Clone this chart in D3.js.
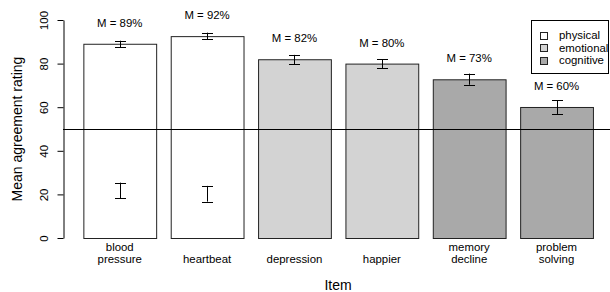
<!DOCTYPE html>
<html>
<head>
<meta charset="utf-8">
<script src="https://cdn.jsdelivr.net/npm/d3@7"></script>
<style>
  body { margin: 0; background: #fff; }
  svg text { font-family: "Liberation Sans", Arial, sans-serif; fill: #000; }
</style>
</head>
<body>
<div id="chart"></div>
<script>
// data
const items = ['blood\npressure', 'heartbeat', 'depression', 'happier', 'memory\ndecline', 'problem\nsolving'];
const groups = ['physical', 'physical', 'emotional', 'emotional', 'cognitive', 'cognitive'];
const means = [89.1, 92.6, 82, 80, 72.8, 60.1];
const errLow = [87.5, 91.1, 79.7, 77.8, 70.3, 56.9];
const errHigh = [90.5, 94.2, 84, 82, 75.4, 63.2];
const meanLabels = ['M = 89%', 'M = 92%', 'M = 82%', 'M = 80%', 'M = 73%', 'M = 60%'];
// second (lower) error bars inside the first two bars
const lowItems = ['blood\npressure', 'heartbeat'];
const lowLow = [18.2, 16.7];
const lowHigh = [25.4, 23.9];
const legendNames = ['physical', 'emotional', 'cognitive'];
const yTicks = [0, 20, 40, 60, 80, 100];
const refLine = 50;

const fills = { physical: '#ffffff', emotional: '#d3d3d3', cognitive: '#a9a9a9' };

const width = 610, height = 292;
const small = '11.4px';

const svg = d3.select('#chart').append('svg')
  .attr('width', width)
  .attr('height', height);

const x = d3.scaleBand()
  .domain(items)
  .range([68.8, 607.5])
  .paddingInner(1 / 6)
  .paddingOuter(1 / 6);

const y = d3.scaleLinear()
  .domain([0, 100])
  .range([238, 20]);

// bars
svg.selectAll('.bar')
  .data(items)
  .enter().append('rect')
  .attr('class', 'bar')
  .attr('x', d => x(d) + 0.5)
  .attr('y', (d, i) => y(means[i]) + 0.5)
  .attr('width', x.bandwidth())
  .attr('height', (d, i) => y(0) - y(means[i]))
  .attr('fill', (d, i) => fills[groups[i]])
  .attr('stroke', '#222')
  .attr('stroke-width', 1);

// reference line
svg.append('line')
  .attr('x1', 63).attr('x2', width)
  .attr('y1', Math.round(y(refLine)) + 0.5).attr('y2', Math.round(y(refLine)) + 0.5)
  .attr('stroke', '#000');

// error bars
function errorBars(cats, lo, hi) {
  const g = svg.append('g').attr('stroke', '#000').attr('stroke-width', 1);
  cats.forEach((c, i) => {
    const cx = Math.round(x(c) + x.bandwidth() / 2) + 0.5;
    g.append('line').attr('x1', cx).attr('x2', cx).attr('y1', y(lo[i])).attr('y2', y(hi[i]));
    [lo[i], hi[i]].forEach(v => {
      g.append('line').attr('x1', cx - 5.5).attr('x2', cx + 5.5)
        .attr('y1', Math.round(y(v)) + 0.5).attr('y2', Math.round(y(v)) + 0.5);
    });
  });
}
errorBars(items, errLow, errHigh);
errorBars(lowItems, lowLow, lowHigh);

// mean labels
svg.selectAll('.mlab')
  .data(items)
  .enter().append('text')
  .attr('class', 'mlab')
  .attr('x', d => x(d) + x.bandwidth() / 2)
  .attr('y', (d, i) => y(means[i] + 9.6) + 4)
  .attr('text-anchor', 'middle')
  .style('font-size', small)
  .text((d, i) => meanLabels[i]);

// y axis
const yAxis = d3.axisLeft(y).tickValues(yTicks).tickSize(6).tickSizeOuter(0);
const ga = svg.append('g')
  .attr('transform', 'translate(63.5,0)')
  .call(yAxis);
ga.select('.domain').attr('stroke', '#000');
ga.selectAll('.tick line').attr('stroke', '#000');
ga.selectAll('.tick text')
  .attr('transform', 'rotate(-90)')
  .attr('x', 0).attr('y', -20)
  .attr('dy', '0.35em')
  .attr('text-anchor', 'middle')
  .style('font-size', small)
  .style('font-family', '"Liberation Sans", Arial, sans-serif');

svg.append('text')
  .attr('transform', 'translate(17,129) rotate(-90)')
  .attr('text-anchor', 'middle')
  .attr('dy', '0.35em')
  .style('font-size', '14px')
  .text('Mean agreement rating');

// category labels
items.forEach(c => {
  const lines = c.split('\n');
  const t = svg.append('text')
    .attr('x', x(c) + x.bandwidth() / 2)
    .attr('text-anchor', 'middle')
    .style('font-size', small);
  lines.forEach((l, j) => {
    const cy = lines.length === 1 ? 259 : 246.7 + j * 12.3;
    t.append('tspan').attr('x', x(c) + x.bandwidth() / 2).attr('y', cy + 4).text(l);
  });
});

svg.append('text')
  .attr('x', 338)
  .attr('y', 285)
  .attr('dy', '0.35em')
  .attr('text-anchor', 'middle')
  .style('font-size', '14px')
  .text('Item');

// legend
const lg = svg.append('g');
lg.append('rect')
  .attr('x', 531.5).attr('y', 20.5)
  .attr('width', 77).attr('height', 53)
  .attr('fill', '#fff').attr('stroke', '#000');
legendNames.forEach((n, i) => {
  const cy = 35.5 + i * 12.3;
  lg.append('rect')
    .attr('x', 540.5).attr('y', Math.round(cy - 3.5) + 0.5)
    .attr('width', 7).attr('height', 7)
    .attr('fill', fills[n]).attr('stroke', '#222');
  lg.append('text')
    .attr('x', 559).attr('y', cy)
    .attr('dy', '0.35em')
    .style('font-size', small)
    .text(n);
});
</script>
</body>
</html>
